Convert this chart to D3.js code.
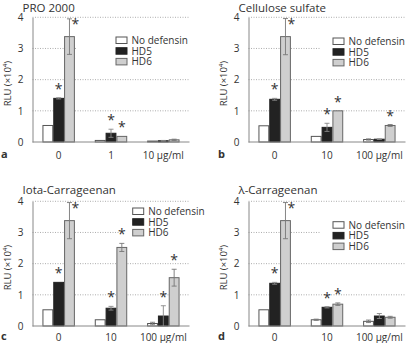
<!DOCTYPE html>
<html><head><meta charset="utf-8">
<script src="https://cdn.jsdelivr.net/npm/d3@7"></script>
<style>
html,body{margin:0;padding:0;background:#fff;}
svg{display:block;font-family:"Open Sans",sans-serif;}
</style></head>
<body>
<svg id="chart" width="407" height="343"></svg>
<script>
// ---- data ----
const panelTitles = ["PRO 2000", "Cellulose sulfate", "Iota-Carrageenan", "λ-Carrageenan"];
const panelLetters = ["a", "b", "c", "d"];
const seriesNames = ["No defensin", "HD5", "HD6"];
const categoriesPRO = ["0", "1", "10 µg/ml"];
const categoriesOther = ["0", "10", "100 µg/ml"];
const yTicks = [0, 1, 2, 3, 4];
const yAxisTitle = "RLU (×10⁴)";

// values per panel: [cat0, cat1, cat2]
const noDefensin = [[0.53, 0.05, 0.03], [0.52, 0.18, 0.08], [0.52, 0.20, 0.08], [0.52, 0.20, 0.15]];
const hd5        = [[1.40, 0.28, 0.04], [1.37, 0.47, 0.09], [1.40, 0.57, 0.32], [1.37, 0.60, 0.32]];
const hd6        = [[3.38, 0.18, 0.07], [3.38, 1.00, 0.53], [3.38, 2.52, 1.55], [3.38, 0.70, 0.28]];
const noDefensinErr = [[0.00, 0.00, 0.00], [0.00, 0.00, 0.02], [0.00, 0.00, 0.04], [0.00, 0.02, 0.04]];
const hd5Err        = [[0.02, 0.13, 0.01], [0.03, 0.13, 0.01], [0.00, 0.06, 0.33], [0.03, 0.02, 0.08]];
const hd6Err        = [[0.57, 0.00, 0.02], [0.58, 0.00, 0.03], [0.58, 0.13, 0.27], [0.58, 0.04, 0.03]];
// significance asterisks (1 = shown)
const hd5Star = [[1, 1, 0], [1, 1, 0], [1, 1, 1], [1, 1, 0]];
const hd6Star = [[1, 1, 0], [1, 1, 1], [1, 1, 1], [1, 1, 0]];

// ---- layout ----
const panelOrigins = [[0, 0], [216, 0], [0, 184], [216, 184]];
const legendPos = [[116, 37, 76], [117, 38, 105], [132.7, 24, 120], [117, 37.7, 105]];
const axisX = 32.5, plotW = 157, y0px = 142, y4px = 17.3;
const fills = ["#ffffff", "#222222", "#cfcfcf"];
const strokes = ["#555555", "#222222", "#666666"];
const textCol = "#333";

const svg = d3.select("#chart");

panelTitles.forEach((title, p) => {
  const g = svg.append("g").attr("transform", `translate(${panelOrigins[p][0]},${panelOrigins[p][1]})`);
  const cats = p === 0 ? categoriesPRO : categoriesOther;
  const vals = [noDefensin[p], hd5[p], hd6[p]];
  const errs = [noDefensinErr[p], hd5Err[p], hd6Err[p]];
  const stars = [null, hd5Star[p], hd6Star[p]];

  const y = d3.scaleLinear().domain([0, 4]).range([y0px, y4px]);
  const x0 = d3.scaleBand().domain(cats).range([axisX, axisX + plotW]).paddingInner(0.38).paddingOuter(0.19);
  const x1 = d3.scaleBand().domain(seriesNames).range([0, x0.bandwidth()]).padding(0);

  // grid
  g.append("g").selectAll("line").data(yTicks.filter(t => t > 0)).join("line")
    .attr("x1", axisX).attr("x2", axisX + plotW)
    .attr("y1", d => y(d)).attr("y2", d => y(d))
    .attr("stroke", "#999").attr("stroke-width", 0.8).attr("stroke-dasharray", "1,1.5");

  // legend background
  const [lx, ly, lbg] = legendPos[p];
  g.append("rect").attr("x", lbg).attr("y", ly - 4).attr("width", axisX + plotW - lbg + 1).attr("height", 36).attr("fill", "#fff");

  // bars
  seriesNames.forEach((s, si) => {
    g.append("g").selectAll("rect").data(cats).join("rect")
      .attr("x", (c) => x0(c) + x1(s) + 0.5)
      .attr("y", (c, i) => y(vals[si][i]))
      .attr("width", x1.bandwidth() - 1)
      .attr("height", (c, i) => y(0) - y(vals[si][i]))
      .attr("fill", fills[si]).attr("stroke", strokes[si]).attr("stroke-width", 1);
  });

  // error bars
  seriesNames.forEach((s, si) => {
    cats.forEach((c, i) => {
      const e = errs[si][i];
      if (e <= 0) return;
      const cx = x0(c) + x1(s) + x1.bandwidth() / 2;
      const v = vals[si][i];
      const eg = g.append("g").attr("stroke", si === 1 ? "#888" : "#777").attr("stroke-width", 0.9);
      eg.append("line").attr("x1", cx).attr("x2", cx).attr("y1", y(v - e)).attr("y2", y(v + e));
      eg.append("line").attr("x1", cx - 2.5).attr("x2", cx + 2.5).attr("y1", y(v + e)).attr("y2", y(v + e));
      eg.append("line").attr("x1", cx - 2.5).attr("x2", cx + 2.5).attr("y1", y(v - e)).attr("y2", y(v - e));
    });
  });

  // stars
  seriesNames.forEach((s, si) => {
    if (!stars[si]) return;
    cats.forEach((c, i) => {
      if (!stars[si][i]) return;
      const v = vals[si][i] + errs[si][i];
      let cx = x0(c) + x1(s) + x1.bandwidth() / 2;
      let cy = y(v) - 11;
      if (v > 3.6) { cx += 6; cy = y(v) + 3.5; }
      g.append("text").attr("x", cx).attr("y", cy + 7).attr("text-anchor", "middle")
        .attr("font-size", 14).attr("fill", textCol).text("*");
    });
  });

  // axes
  const yAxis = d3.axisLeft(y).tickValues(yTicks).tickSize(0).tickPadding(9).tickFormat(d3.format("d"));
  const ya = g.append("g").attr("transform", `translate(${axisX},0)`).call(yAxis);
  ya.select(".domain").attr("stroke", "#888").attr("stroke-width", 1);
  ya.selectAll("text").attr("font-size", 10).attr("fill", textCol).attr("font-family", "Open Sans");

  const xAxis = d3.axisBottom(x0).tickSize(0).tickPadding(8);
  const xa = g.append("g").attr("transform", `translate(0,${y0px})`).call(xAxis);
  xa.select(".domain").attr("stroke", "#888").attr("stroke-width", 1).attr("d", `M${axisX},0H${axisX + plotW}`);
  xa.selectAll("text").attr("font-size", 10).attr("fill", textCol).attr("font-family", "Open Sans")
    .attr("dy", null).attr("y", p < 2 ? 16.5 : 14.5);

  // y title
  g.append("text").attr("transform", `translate(11,${(y0px + y4px) / 2 + 4}) rotate(-90)`)
    .attr("text-anchor", "middle").attr("font-size", 9.5).attr("fill", textCol).text(yAxisTitle);

  // panel title
  g.append("text").attr("x", axisX - 10).attr("y", p < 2 ? 12 : 10).attr("font-size", 11.5).attr("fill", textCol).text(title);

  // panel letter
  g.append("text").attr("x", p % 2 === 0 ? 1 : 2).attr("y", p < 2 ? 158 : 156).attr("font-size", 11).attr("font-weight", "bold").attr("fill", textCol).text(panelLetters[p]);

  // legend
  seriesNames.forEach((s, si) => {
    const ry = ly + si * 10.7;
    g.append("rect").attr("x", lx).attr("y", ry).attr("width", 11).attr("height", 6.5)
      .attr("fill", fills[si]).attr("stroke", strokes[si]).attr("stroke-width", 1);
    g.append("text").attr("x", lx + 15.5).attr("y", ry + 7).attr("font-size", 10).attr("fill", textCol).text(s);
  });
});
</script>
</body></html>
